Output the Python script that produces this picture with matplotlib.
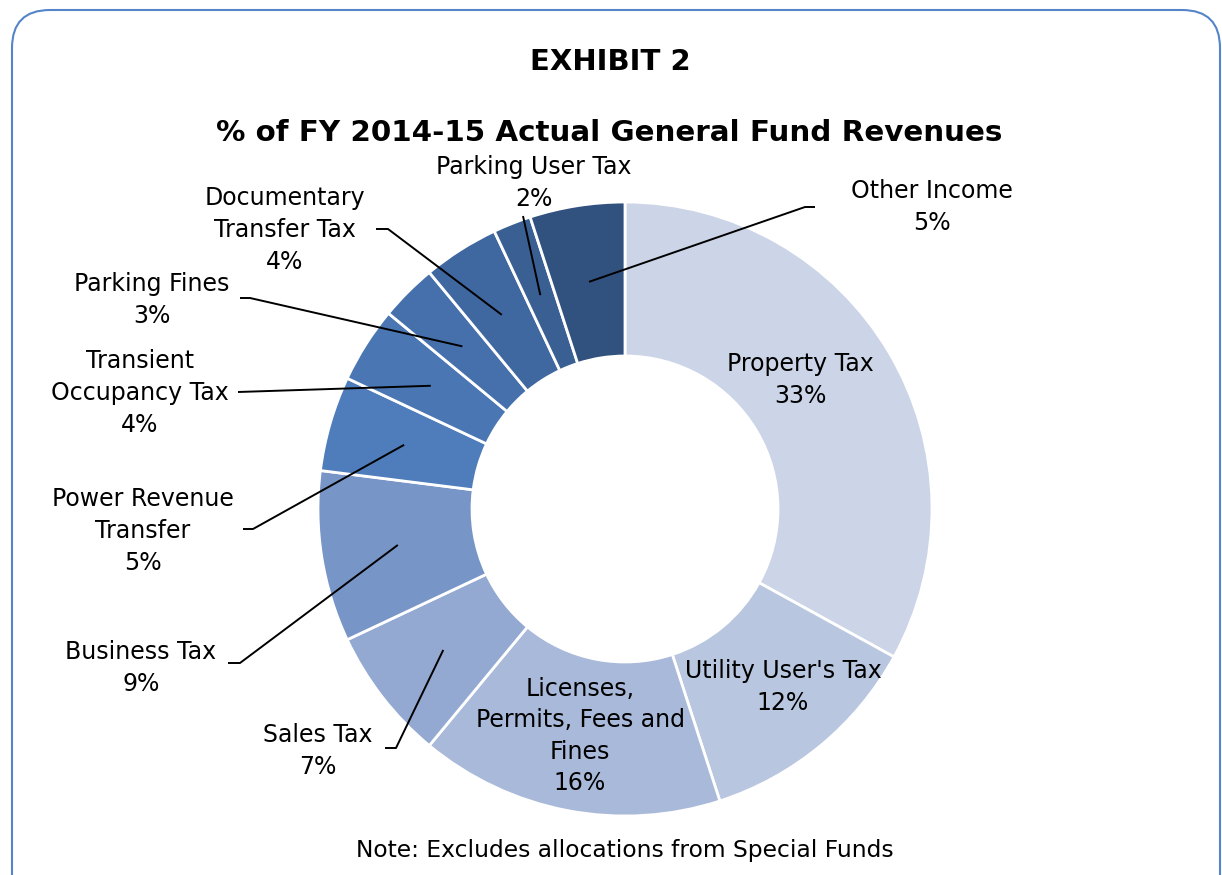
import numpy as np
import matplotlib
matplotlib.use('Agg')
import matplotlib.pyplot as plt
from matplotlib.patches import FancyBboxPatch

# General Fund revenue shares, clockwise from 12 o'clock
categories = ['Property Tax', "Utility User's Tax", 'Licenses, Permits, Fees and Fines',
              'Sales Tax', 'Business Tax', 'Power Revenue Transfer',
              'Transient Occupancy Tax', 'Parking Fines', 'Documentary Transfer Tax',
              'Parking User Tax', 'Other Income']
shares = [33, 12, 16, 7, 9, 5, 4, 3, 4, 2, 5]
label_text = ['Property Tax', "Utility User's Tax", 'Licenses,\nPermits, Fees and\nFines',
              'Sales Tax', 'Business Tax', 'Power Revenue\nTransfer',
              'Transient\nOccupancy Tax', 'Parking Fines', 'Documentary\nTransfer Tax',
              'Parking User Tax', 'Other Income']
colors = ['#ccd5e8', '#b9c6e0', '#a9b9d9', '#93a9d2', '#7795c6', '#4f7cba',
          '#4a77b3', '#4570ab', '#3f67a0', '#3a5f93', '#31527f']

W, H = 1222, 875
fig = plt.figure(figsize=(W / 100, H / 100), dpi=100)
ax = fig.add_axes([0, 0, 1, 1])

cx, cy = 625, H - 509
r_out, r_in = 307, 153

wedges, _ = ax.pie(shares, colors=colors, startangle=90, counterclock=False,
                   center=(cx, cy), radius=r_out,
                   wedgeprops=dict(width=r_out - r_in, edgecolor='white', linewidth=2))

ax.set_xlim(0, W)
ax.set_ylim(0, H)
ax.set_aspect('equal')
ax.axis('off')

# text centre per slice, pixel coords with y measured from top
label_pos = {
    'Property Tax': (800, 380),
    "Utility User's Tax": (783, 687),
    'Licenses, Permits, Fees and Fines': (580, 736),
    'Sales Tax': (318, 751),
    'Business Tax': (141, 668),
    'Power Revenue Transfer': (143, 531),
    'Transient Occupancy Tax': (140, 393),
    'Parking Fines': (152, 300),
    'Documentary Transfer Tax': (285, 230),
    'Parking User Tax': (534, 183),
    'Other Income': (932, 207),
}
# leader start points (x, y from top); the last point sits on the slice
leader_start = {
    'Sales Tax': [(385, 748), (396, 748)],
    'Business Tax': [(228, 663), (240, 663)],
    'Power Revenue Transfer': [(243, 529), (253, 529)],
    'Transient Occupancy Tax': [(238, 392)],
    'Parking Fines': [(240, 298), (250, 298)],
    'Documentary Transfer Tax': [(376, 229), (388, 229)],
    'Parking User Tax': [(523, 216)],
    'Other Income': [(815, 207), (805, 207)],
}

fsize = 17
total = sum(shares)
cum = 0
for name, txt, val in zip(categories, label_text, shares):
    mid = (cum + val / 2) / total * 360
    cum += val
    tx, ty = label_pos[name]
    ax.text(tx, H - ty, f'{txt}\n{val}%', ha='center', va='center',
            fontsize=fsize, linespacing=1.4, color='black')
    if name in leader_start:
        r_mid = 230
        ex = cx + r_mid * np.sin(np.radians(mid))
        ey = cy + r_mid * np.cos(np.radians(mid))
        pts = leader_start[name]
        xs = [p[0] for p in pts] + [ex]
        ys = [H - p[1] for p in pts] + [ey]
        ax.plot(xs, ys, color='black', linewidth=1.4, solid_capstyle='butt')

fig.text(610 / W, 1 - 62 / H, 'EXHIBIT 2', ha='center', va='center',
         fontsize=21, fontweight='bold')
fig.text(609 / W, 1 - 133 / H, '% of FY 2014-15 Actual General Fund Revenues',
         ha='center', va='center', fontsize=21.2, fontweight='bold')
fig.text(625 / W, 1 - 850 / H, 'Note: Excludes allocations from Special Funds',
         ha='center', va='center', fontsize=16.8)

# rounded frame around the exhibit
frame = FancyBboxPatch((12, -40), 1208, H - 10 + 40,
                       boxstyle='round,pad=0,rounding_size=38',
                       transform=ax.transData, facecolor='none',
                       edgecolor='#5585c8', linewidth=1.5, clip_on=False)
ax.add_patch(frame)

fig.savefig('out.png', dpi=100, facecolor='white')
